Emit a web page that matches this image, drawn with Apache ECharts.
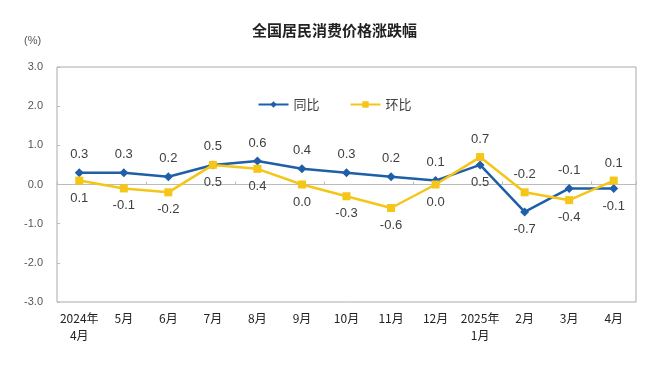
<!DOCTYPE html>
<html><head><meta charset="utf-8">
<script src="https://cdn.jsdelivr.net/npm/echarts@6/dist/echarts.min.js"></script>
<style>html,body{margin:0;padding:0;background:#fff}#c{width:669px;height:374px}</style>
</head><body><div id="c"></div>
<script>
const categories = ['2024年\n4月','5月','6月','7月','8月','9月','10月','11月','12月','2025年\n1月','2月','3月','4月'];
const yoy = [0.3, 0.3, 0.2, 0.5, 0.6, 0.4, 0.3, 0.2, 0.1, 0.5, -0.7, -0.1, -0.1];
const mom = [0.1, -0.1, -0.2, 0.5, 0.4, 0.0, -0.3, -0.6, 0.0, 0.7, -0.2, -0.4, 0.1];
const yoyBelow = [9, 10, 12];
const momAbove = [9, 10, 12];

const chart = echarts.init(document.getElementById('c'));
const lblFont = {fontSize: 13, color: '#404040', fontFamily: 'Liberation Sans, Arial, sans-serif'};
chart.setOption({
  animation: false,
  title: {text: '全国居民消费价格涨跌幅', left: 'center', top: 18,
    textStyle: {fontSize: 15, fontWeight: 'bold', color: '#222', fontFamily: 'Noto Sans CJK SC'}},
  legend: {top: 93, left: 'center', itemGap: 30, itemWidth: 30, itemHeight: 8,
    textStyle: {fontSize: 13, color: '#404040', fontFamily: 'Noto Sans CJK SC'},
    data: ['同比', '环比']},
  graphic: [{type: 'text', left: 24, top: 35, style: {text: '(%)', fontSize: 11, fill: '#555', fontFamily: 'Liberation Sans'}}],
  grid: {left: 57, right: 33, top: 67, bottom: 72, show: true, borderColor: '#aaa', borderWidth: 1},
  xAxis: [{
    type: 'category', data: categories, position: 'bottom',
    axisLine: {show: false, onZero: false}, axisTick: {show: false},
    axisLabel: {fontSize: 12, color: '#222', fontFamily: 'Noto Sans CJK SC', margin: 8, lineHeight: 17, interval: 0}
  }, {
    type: 'category', data: categories, position: 'bottom',
    axisLine: {show: true, onZero: true, lineStyle: {color: '#bbb', width: 1}},
    axisTick: {show: true, inside: true, length: 3, lineStyle: {color: '#bbb'}},
    axisLabel: {show: false}
  }],
  yAxis: {
    type: 'value', min: -3, max: 3, interval: 1,
    axisLine: {show: false}, axisTick: {show: true, inside: true, length: 3, lineStyle: {color: '#bbb'}},
    splitLine: {show: false},
    axisLabel: {fontSize: 11, color: '#555', margin: 14, fontFamily: 'Liberation Sans', formatter: v => v.toFixed(1)}
  },
  series: [{
    name: '同比', type: 'line', xAxisIndex: 0,
    data: yoy.map((v, i) => ({value: v, label: {position: yoyBelow.includes(i) ? 'bottom' : 'top'}})),
    symbol: 'diamond', symbolSize: 9,
    lineStyle: {color: '#1f5fa8', width: 2.5}, itemStyle: {color: '#1f5fa8'},
    label: Object.assign({show: true, distance: 7, formatter: p => p.value.toFixed(1)}, lblFont)
  }, {
    name: '环比', type: 'line', xAxisIndex: 0,
    data: mom.map((v, i) => ({value: v, label: {position: momAbove.includes(i) ? 'top' : 'bottom'}})),
    symbol: 'rect', symbolSize: 8,
    lineStyle: {color: '#f5c518', width: 2.5}, itemStyle: {color: '#f5c518'},
    label: Object.assign({show: true, distance: 7, formatter: p => p.value.toFixed(1)}, lblFont)
  }]
});
</script></body></html>
